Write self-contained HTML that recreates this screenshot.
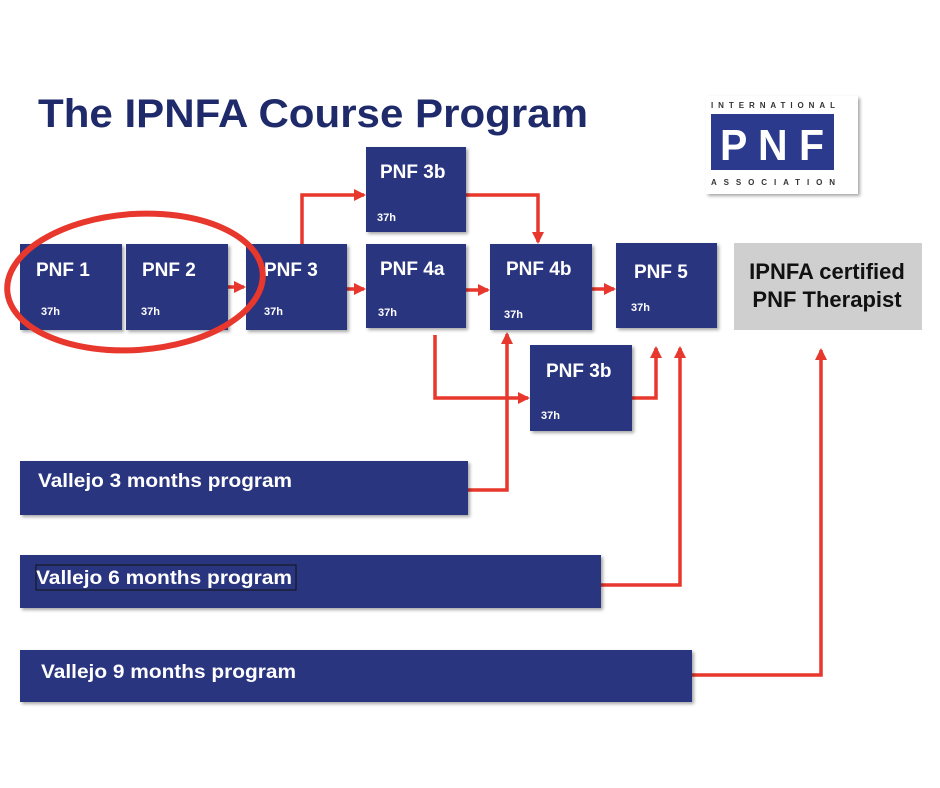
<!DOCTYPE html>
<html><head><meta charset="utf-8"><style>
html,body{margin:0;padding:0;background:#fff;}
svg{display:block;font-family:"Liberation Sans",Arial,sans-serif;}
</style></head><body>
<svg width="940" height="788" viewBox="0 0 940 788" xmlns="http://www.w3.org/2000/svg">
<defs>
<filter id="sh" x="-5%" y="-5%" width="115%" height="120%"><feDropShadow dx="2" dy="2" stdDeviation="1.5" flood-color="#000" flood-opacity="0.35"/></filter>
<marker id="ah" markerWidth="14" markerHeight="14" refX="10" refY="7" orient="auto" markerUnits="userSpaceOnUse"><path d="M0,1 L12,7 L0,13 Z" fill="#e8372c"/></marker>
</defs>
<text x="38" y="127" font-size="40" font-weight="bold" fill="#1f2a6b" textLength="550" lengthAdjust="spacingAndGlyphs">The IPNFA Course Program</text>

<!-- logo -->
<rect x="706" y="96" width="152" height="98" fill="#fff" filter="url(#sh)"/>
<text x="711" y="108" font-size="8" font-weight="bold" fill="#333" textLength="124" lengthAdjust="spacing">INTERNATIONAL</text>
<rect x="711" y="114" width="123" height="56" fill="#2b3a8c"/>
<text x="720" y="160" font-size="44" font-weight="bold" fill="#fff" textLength="104" lengthAdjust="spacingAndGlyphs">P N F</text>
<text x="711" y="185" font-size="8" font-weight="bold" fill="#333" textLength="124" lengthAdjust="spacing">ASSOCIATION</text>

<!-- connectors -->
<g stroke="#e8372c" stroke-width="3.5" fill="none">
<path d="M228 287 H244" marker-end="url(#ah)"/>
<path d="M302 244 V195 H364" marker-end="url(#ah)"/>
<path d="M347 289 H364" marker-end="url(#ah)"/>
<path d="M466 195 H538 V242" marker-end="url(#ah)"/>
<path d="M466 290 H488" marker-end="url(#ah)"/>
<path d="M592 289 H614" marker-end="url(#ah)"/>
<path d="M435 335 V398 H528" marker-end="url(#ah)"/>
<path d="M468 490 H507 V334" marker-end="url(#ah)"/>
<path d="M632 398 H656 V348" marker-end="url(#ah)"/>
<path d="M601 585 H680 V348" marker-end="url(#ah)"/>
<path d="M692 675 H821 V350" marker-end="url(#ah)"/>
</g>

<g fill="#293580" filter="url(#sh)">
<rect x="20" y="244" width="102" height="86"/>
<rect x="126" y="244" width="102" height="86"/>
<rect x="246" y="244" width="101" height="86"/>
<rect x="366" y="147" width="100" height="85"/>
<rect x="366" y="244" width="100" height="84"/>
<rect x="490" y="244" width="102" height="86"/>
<rect x="616" y="243" width="101" height="85"/>
<rect x="530" y="345" width="102" height="86"/>
<rect x="20" y="461" width="448" height="54"/>
<rect x="20" y="555" width="581" height="53"/>
<rect x="20" y="650" width="672" height="52"/>
</g>
<rect x="734" y="243" width="188" height="87" fill="#cfcfcf"/>

<g fill="#fff" font-weight="bold" font-size="19">
<text x="36" y="276">PNF 1</text>
<text x="142" y="276">PNF 2</text>
<text x="264" y="276">PNF 3</text>
<text x="380" y="178">PNF 3b</text>
<text x="380" y="275">PNF 4a</text>
<text x="506" y="275">PNF 4b</text>
<text x="634" y="278">PNF 5</text>
<text x="546" y="377">PNF 3b</text>
</g>
<g fill="#fff" font-weight="bold" font-size="11">
<text x="41" y="315">37h</text>
<text x="141" y="315">37h</text>
<text x="264" y="315">37h</text>
<text x="377" y="221">37h</text>
<text x="378" y="316">37h</text>
<text x="504" y="318">37h</text>
<text x="631" y="311">37h</text>
<text x="541" y="419">37h</text>
</g>
<g fill="#fff" font-weight="bold" font-size="19">
<text x="38" y="487" textLength="254" lengthAdjust="spacingAndGlyphs">Vallejo 3 months program</text>
<text x="36" y="584" textLength="256" lengthAdjust="spacingAndGlyphs">Vallejo 6 months program</text>
<text x="41" y="678" textLength="255" lengthAdjust="spacingAndGlyphs">Vallejo 9 months program</text>
</g>
<rect x="36" y="565" width="260" height="25" fill="none" stroke="#111" stroke-width="1"/>
<g fill="#111" font-weight="bold" font-size="22" text-anchor="middle">
<text x="827" y="279">IPNFA certified</text>
<text x="827" y="307">PNF Therapist</text>
</g>

<ellipse cx="135" cy="282" rx="128" ry="68" transform="rotate(-4 135 282)" fill="none" stroke="#e8372c" stroke-width="6"/>
</svg>
</body></html>
